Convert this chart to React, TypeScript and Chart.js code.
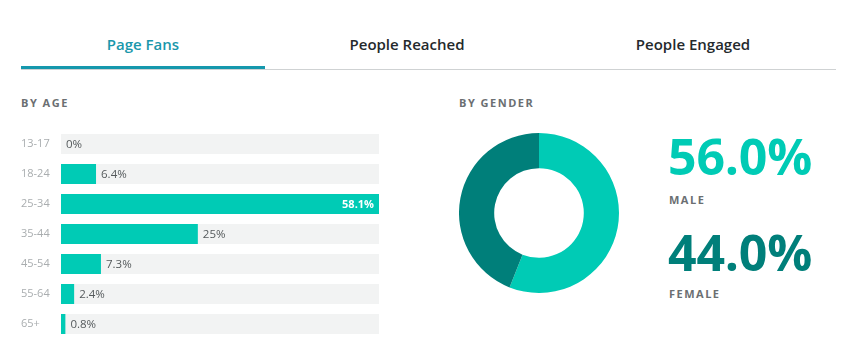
import React, { useEffect, useRef } from "react";
import { Chart, registerables } from "chart.js";

Chart.register(...registerables);

const tabs = ["Page Fans", "People Reached", "People Engaged"];
const ageCategories = ["13-17", "18-24", "25-34", "35-44", "45-54", "55-64", "65+"];
const ageValues = [0, 6.4, 58.1, 25, 7.3, 2.4, 0.8];
const ageLabels = ["0%", "6.4%", "58.1%", "25%", "7.3%", "2.4%", "0.8%"];
const genderLabels = ["MALE", "FEMALE"];
const genderValues = [56.0, 44.0];
const genderText = ["56.0%", "44.0%"];

const TEAL = "#00cbb5";
const DARK = "#007f7a";
const FONT = "'Open Sans', sans-serif";

function AgeChart() {
  const ref = useRef<HTMLCanvasElement | null>(null);
  useEffect(() => {
    if (!ref.current) return;
    const maxV = Math.max(...ageValues);
    const track = ageCategories.map(() => maxV);
    const labelPlugin = {
      id: "valueLabels",
      afterDatasetsDraw(chart: any) {
        const ctx = chart.ctx;
        const meta = chart.getDatasetMeta(0);
        ctx.save();
        ctx.textBaseline = "middle";
        meta.data.forEach((bar: any, i: number) => {
          const v = ageValues[i];
          if (v >= maxV) {
            ctx.font = `700 11px ${FONT}`;
            ctx.fillStyle = "#ffffff";
            ctx.textAlign = "right";
            ctx.fillText(ageLabels[i], bar.x - 5, bar.y + 1);
          } else {
            ctx.font = `400 11.5px ${FONT}`;
            ctx.fillStyle = "#555a5c";
            ctx.textAlign = "left";
            ctx.fillText(ageLabels[i], bar.x + 5, bar.y + 1);
          }
        });
        ctx.restore();
      },
    };
    const chart = new Chart(ref.current, {
      type: "bar",
      data: {
        labels: ageCategories,
        datasets: [
          {
            data: ageValues,
            backgroundColor: TEAL,
            grouped: false,
            order: 1,
            categoryPercentage: 1,
            barPercentage: 0.667,
            borderWidth: 0,
          } as any,
          {
            data: track,
            backgroundColor: "#f2f3f3",
            grouped: false,
            order: 2,
            categoryPercentage: 1,
            barPercentage: 0.667,
            borderWidth: 0,
          } as any,
        ],
      },
      options: {
        indexAxis: "y",
        animation: false,
        responsive: true,
        maintainAspectRatio: false,
        layout: { padding: { left: 21, right: 21, top: 0, bottom: 0 } },
        plugins: { legend: { display: false }, tooltip: { enabled: false } },
        scales: {
          x: { display: false, min: 0, max: maxV },
          y: {
            grid: { display: false },
            border: { display: false },
            ticks: {
              crossAlign: "far",
              color: "#a9adaf",
              font: { family: FONT, size: 11 },
              padding: 0,
            },
            afterFit: (s: any) => {
              s.width = 40;
              s.paddingTop = 0;
              s.paddingBottom = 0;
            },
          },
        },
      },
      plugins: [labelPlugin],
    });
    return () => chart.destroy();
  }, []);
  return (
    <div style={{ position: "absolute", left: 0, top: 129, width: 400, height: 210 }}>
      <canvas ref={ref} />
    </div>
  );
}

function GenderChart() {
  const ref = useRef<HTMLCanvasElement | null>(null);
  useEffect(() => {
    if (!ref.current) return;
    const chart = new Chart(ref.current, {
      type: "doughnut",
      data: {
        labels: genderLabels,
        datasets: [
          {
            data: genderValues,
            backgroundColor: [TEAL, DARK],
            borderWidth: 0,
          },
        ],
      },
      options: {
        animation: false,
        responsive: true,
        maintainAspectRatio: false,
        cutout: "56%",
        plugins: { legend: { display: false }, tooltip: { enabled: false } },
      },
    });
    return () => chart.destroy();
  }, []);
  return (
    <div style={{ position: "absolute", left: 459, top: 133, width: 160, height: 160 }}>
      <canvas ref={ref} />
    </div>
  );
}

const small: React.CSSProperties = {
  position: "absolute",
  fontFamily: FONT,
  fontWeight: 700,
  fontSize: 11,
  lineHeight: "11px",
  letterSpacing: 1.5,
  color: "#6b6f72",
  whiteSpace: "nowrap",
};

export default function App() {
  const tabCenters = [143, 407, 693];
  return (
    <div
      style={{
        position: "absolute",
        left: 0,
        top: 0,
        width: 853,
        height: 354,
        background: "#fff",
        overflow: "hidden",
        fontFamily: FONT,
      }}
    >
      {tabs.map((t, i) => (
        <div
          key={t}
          style={{
            position: "absolute",
            left: tabCenters[i],
            top: 37,
            transform: "translateX(-50%)",
            fontSize: 15,
            lineHeight: "15px",
            fontWeight: 600,
            color: i === 0 ? "#1a97ab" : "#24292c",
            whiteSpace: "nowrap",
          }}
        >
          {t}
        </div>
      ))}
      <div style={{ position: "absolute", left: 21, top: 69, width: 815, height: 1, background: "#cfd2d3" }} />
      <div style={{ position: "absolute", left: 21, top: 66, width: 244, height: 3, background: "#1598ad" }} />

      <div style={{ ...small, left: 21, top: 97 }}>BY AGE</div>
      <div style={{ ...small, left: 459, top: 97 }}>BY GENDER</div>

      <AgeChart />
      <GenderChart />

      <div
        style={{
          position: "absolute",
          left: 668,
          top: 131,
          fontSize: 50,
          lineHeight: "50px",
          fontWeight: 700,
          color: TEAL,
          letterSpacing: -0.2,
        }}
      >
        {genderText[0]}
      </div>
      <div style={{ ...small, left: 669, top: 194 }}>{genderLabels[0]}</div>
      <div
        style={{
          position: "absolute",
          left: 668,
          top: 227,
          fontSize: 50,
          lineHeight: "50px",
          fontWeight: 700,
          color: DARK,
          letterSpacing: -0.2,
        }}
      >
        {genderText[1]}
      </div>
      <div style={{ ...small, left: 669, top: 288 }}>{genderLabels[1]}</div>
    </div>
  );
}
